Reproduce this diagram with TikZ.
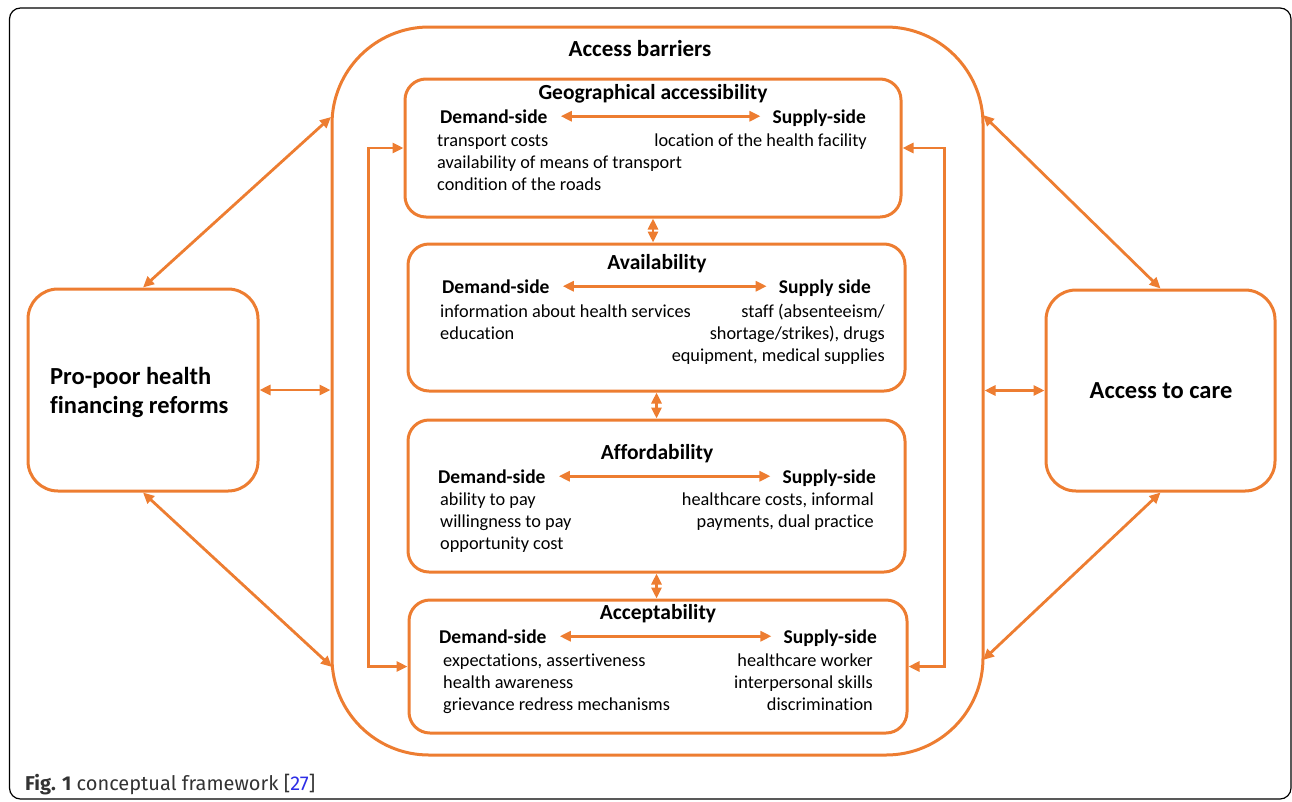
\documentclass[tikz,border=0pt]{standalone}
\usepackage{fontspec}
\setmainfont{Carlito}[Ligatures=NoCommon]
\newfontfamily\capfont{Fira Sans}
\usetikzlibrary{arrows.meta}
\definecolor{barrier}{RGB}{237,125,49}
\definecolor{citeblue}{RGB}{45,45,230}

\begin{document}
\begin{tikzpicture}[x=1pt,y=-1pt,
    box/.style={draw=barrier, line width=3pt, rounded corners=21pt, inner sep=0pt},
    link/.style={draw=barrier, line width=2.8pt, {Triangle[length=11pt,width=10pt]}-{Triangle[length=11pt,width=10pt]}},
    sides/.style={link, shorten <=13pt, shorten >=12pt},
    title/.style={font=\bfseries\fontsize{21.5}{25}\selectfont, anchor=base, inner sep=0pt},
    side/.style={font=\bfseries\fontsize{19.5}{22}\selectfont, inner sep=0pt},
    items/.style={font=\fontsize{18.3}{22}\selectfont, inner sep=0pt},
    big/.style={font=\bfseries\fontsize{24.5}{29}\selectfont, inner sep=0pt}]
    \useasboundingbox (0,0) rectangle (1292,801);
    \draw[line width=1.2pt, rounded corners=11pt] (9.5,8) rectangle (1291,799);

    % outer container with its four feature boxes
    \node[box, rounded corners=97pt, minimum width=651pt, minimum height=728pt] (barriers) at (657.5,391) {};
    \node[font=\bfseries\fontsize{23}{29}\selectfont, inner sep=0pt, anchor=base] (bartitle) at (640,56) {Access barriers};

    \node[box, minimum width=496pt, minimum height=138pt] (geo) at (653,148) {};
    \node[box, minimum width=497pt, minimum height=147pt] (avail) at (656.5,317.5) {};
    \node[box, minimum width=497pt, minimum height=152pt] (afford) at (656.5,496) {};
    \node[box, minimum width=498pt, minimum height=133pt] (accept) at (658,666.5) {};

    % geographical accessibility (lists are placed by their last baseline)
    \node[title] (geoT) at (653,99) {Geographical accessibility};
    \node[side, anchor=base west] (geoD) at (440,123) {Demand-side};
    \node[side, anchor=base east] (geoS) at (866,123) {Supply-side};
    \node[items, anchor=base west, align=left] (geoDl) at (437,190) {transport costs\\availability of means of transport\\condition of the roads};
    \node[items, anchor=base east, align=right] (geoSl) at (867,146) {location of the health facility};

    % availability
    \node[title] (avT) at (657,269) {Availability};
    \node[side, anchor=base west] (avD) at (442,293) {Demand-side};
    \node[side, anchor=base east] (avS) at (871,293) {Supply side};
    \node[items, anchor=base west, align=left] (avDl) at (440,339) {information about health services\\education};
    \node[items, anchor=base east, align=right] (avSl) at (885,361) {staff (absenteeism/\\shortage/strikes), drugs\\equipment, medical supplies};

    % affordability
    \node[title] (afT) at (657,459) {Affordability};
    \node[side, anchor=base west] (afD) at (438,483) {Demand-side};
    \node[side, anchor=base east] (afS) at (876,483) {Supply-side};
    \node[items, anchor=base west, align=left] (afDl) at (440,549) {ability to pay\\willingness to pay\\opportunity cost};
    \node[items, anchor=base east, align=right] (afSl) at (874,527) {healthcare costs, informal\\payments, dual practice};

    % acceptability
    \node[title] (acT) at (658,619) {Acceptability};
    \node[side, anchor=base west] (acD) at (439,643) {Demand-side};
    \node[side, anchor=base east] (acS) at (877,643) {Supply-side};
    \node[items, anchor=base west, align=left] (acDl) at (443,710) {expectations, assertiveness\\health awareness\\grievance redress mechanisms};
    \node[items, anchor=base east, align=right] (acSl) at (873,710) {healthcare worker\\interpersonal skills\\discrimination};

    % demand <-> supply inside each box
    \draw[sides] (geoD.east) -- (geoD.east -| geoS.west);
    \draw[sides] (avD.east) -- (avD.east -| avS.west);
    \draw[sides] (afD.east) -- (afD.east -| afS.west);
    \draw[sides] (acD.east) -- (acD.east -| acS.west);

    % links between the boxes
    \draw[link] (geo.south) -- (geo.south |- avail.north);
    \draw[link] (avail.south) -- (afford.north);
    \draw[link] (afford.south) -- (afford.south |- accept.north);
    \draw[link] (geo.west) -- ++(-35,0) |- (accept.west);
    \draw[link] (geo.east) -- ++(42,0) |- (accept.east);

    % reforms and outcome
    \node[box, rounded corners=30pt, minimum width=230pt, minimum height=202pt] (reform) at (143,390) {};
    \node[big, anchor=west, align=left] (reformT) at (50,392) {Pro-poor health\\financing reforms};
    \node[box, rounded corners=30pt, minimum width=229pt, minimum height=201pt] (care) at (1160.5,390.5) {};
    \node[big] (careT) at (1161,391) {Access to care};

    \coordinate (bNW) at (331,117);
    \coordinate (bSW) at (332,667);
    \coordinate (bNE) at (983,115);
    \coordinate (bSE) at (983,660);
    \draw[link] (reform.north) -- (bNW);
    \draw[link] (reform.south) -- (bSW);
    \draw[link] (reform.east) -- (reform.east -| barriers.west);
    \draw[link] (care.north) -- (bNE);
    \draw[link] (care.south) -- (bSE);
    \draw[link] (care.west) -- (care.west -| barriers.east);

    \node[anchor=base west, inner sep=0pt, text=black!80, font=\capfont\fontsize{20}{24}\selectfont] (caption) at (25,790) {\textbf{Fig. 1} conceptual framework [\textcolor{citeblue}{27}]};
\end{tikzpicture}
\end{document}
